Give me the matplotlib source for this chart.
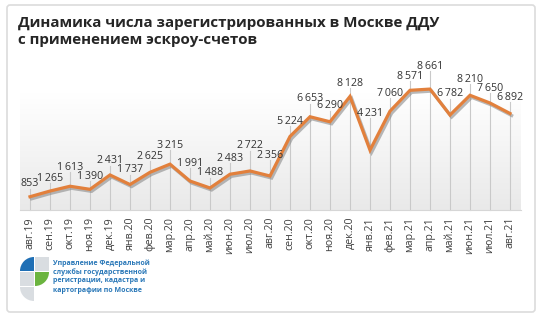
import matplotlib
matplotlib.use("Agg")
import matplotlib.pyplot as plt
import matplotlib.patheffects as pe
from matplotlib.patches import FancyBboxPatch, Rectangle, Wedge
import numpy as np


months = ['авг.19', 'сен.19', 'окт.19', 'ноя.19', 'дек.19', 'янв.20', 'фев.20',
          'мар.20', 'апр.20', 'май.20', 'июн.20', 'июл.20', 'авг.20', 'сен.20',
          'окт.20', 'ноя.20', 'дек.20', 'янв.21', 'фев.21', 'мар.21', 'апр.21',
          'май.21', 'июн.21', 'июл.21', 'авг.21']
counts = [853, 1265, 1613, 1390, 2431, 1737, 2625, 3215, 1991, 1488, 2483, 2722,
          2356, 5224, 6653, 6290, 8128, 4231, 7060, 8571, 8661, 6782, 8210, 7650, 6892]
# how far (px) each value label sits above its point
label_lift = [13, 13, 19, 13, 14, 15, 16, 19, 18, 15, 16, 25, 21,
              15, 18, 16, 13, 37, 18, 14, 23, 21, 16, 15, 16]

title = 'Динамика числа зарегистрированных в Москве ДДУ\nс применением эскроу-счетов'
org_lines = ['Управление Федеральной', 'службы государственной',
             'регистрации, кадастра и', 'картографии по Москве']

W, H = 542, 322
fig = plt.figure(figsize=(W / 100, H / 100), dpi=100, facecolor='white')

# background layer in pixel coords (y grows downward): card, title, logo
bg = fig.add_axes([0, 0, 1, 1])
bg.set_xlim(0, W)
bg.set_ylim(H, 0)
bg.axis('off')
bg.add_patch(FancyBboxPatch((7, 5), 528, 307, boxstyle='round,pad=0,rounding_size=3',
                            facecolor='white', edgecolor='#dcdcdc', lw=1.2))
bg.text(18, 16, title, ha='left', va='top', fontsize=10.9, fontweight='bold',
        family='Open Sans', color='#262626', linespacing=1.25)

# logo (angles flipped because y axis is inverted)
c = 14
x0, y0 = 20, 257
grey = '#d9dde1'
bg.add_patch(Wedge((x0 + c, y0 + c), c, 180, 270, facecolor='#1f6fb5', edgecolor='none'))
bg.add_patch(Rectangle((x0 + c + 1, y0), c, c, facecolor=grey, edgecolor='none'))
bg.add_patch(Rectangle((x0, y0 + c + 1), c, c, facecolor=grey, edgecolor='none'))
bg.add_patch(Wedge((x0 + c + 1, y0 + c + 1), c, 0, 90, facecolor='#6bb43f', edgecolor='none'))
bg.add_patch(Wedge((x0 + c, y0 + 2 * c + 2), c, 90, 180, facecolor=grey, edgecolor='none'))
for i, line in enumerate(org_lines):
    bg.text(53, 263 + i * 9, line, ha='left', va='center', fontsize=5,
            fontweight='bold', family='Open Sans', color='#2a78b8')

# chart axes
left, right, top, bottom = 20, 521, 93, 210
ax = fig.add_axes([left / W, 1 - bottom / H, (right - left) / W, (bottom - top) / H])
ymin, ymax = -110, 8376
ax.set_xlim(-0.5, len(months) - 0.45)
ax.set_ylim(ymin, ymax)
px_per_unit = (bottom - top) / (ymax - ymin)

grad = np.linspace(0, 1, 256).reshape(-1, 1)
ax.imshow(grad, extent=[-0.5, len(months) - 0.45, ymin, ymax], aspect='auto',
          cmap=matplotlib.colors.LinearSegmentedColormap.from_list('g', ['#ffffff', '#e9e9e9']),
          origin='upper', zorder=0)

x = np.arange(len(months))
for xi, v, lift in zip(x, counts, label_lift):
    top_v = v + (lift - 5) / px_per_unit
    ax.plot([xi, xi], [ymin, top_v], color='#c9c9c9', lw=0.8, zorder=1, clip_on=False)
    ax.annotate(f'{v:,}'.replace(',', '\u2009'), (xi, v), xytext=(0, lift),
                textcoords='offset pixels', ha='center', va='center',
                fontsize=7.7, family='Open Sans', color='#333333', zorder=4,
                annotation_clip=False)

ax.plot(x, counts, color='#e2803c', lw=2.3, solid_joinstyle='miter', zorder=3, clip_on=False,
        path_effects=[pe.SimpleLineShadow(offset=(1.2, -1.5), shadow_color='#8a8a8a', alpha=0.6),
                      pe.Normal()])

ax.set_xticks(x)
ax.set_xticklabels(months, rotation=90, fontsize=7.7, family='Open Sans', color='#404040')
ax.tick_params(axis='x', length=0, pad=5)
ax.set_yticks([])
for s in ['left', 'right', 'top']:
    ax.spines[s].set_visible(False)
ax.spines['bottom'].set_color('#d6d6d6')

fig.savefig('out.png', dpi=100, facecolor='white')
